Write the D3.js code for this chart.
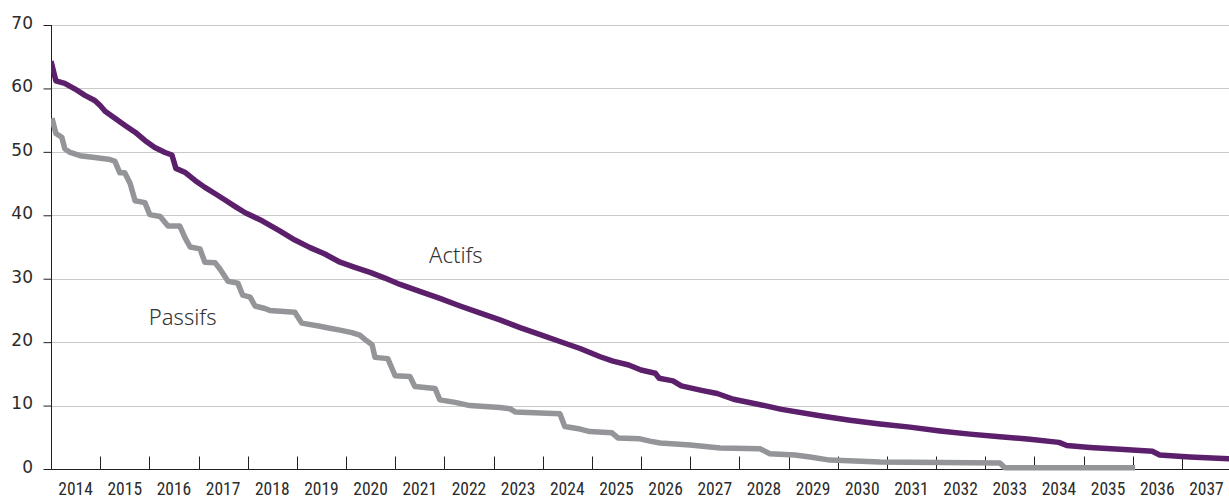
<!DOCTYPE html>
<html>
<head>
<meta charset="utf-8">
<script src="https://cdn.jsdelivr.net/npm/d3@7"></script>
<style>
  html, body { margin: 0; padding: 0; background: #fff; }
  svg { display: block; }
</style>
</head>
<body>
<svg id="chart" width="1229" height="497"></svg>
<script>
// ---- data ----
const years = d3.range(2014, 2038);
const yTicks = [0, 10, 20, 30, 40, 50, 60, 70];

const actifsT = [2014.00, 2014.10, 2014.28, 2014.49, 2014.69, 2014.89, 2015.00, 2015.10, 2015.30, 2015.50,
  2015.71, 2015.91, 2016.11, 2016.32, 2016.46, 2016.54, 2016.72, 2016.93, 2017.13, 2017.34,
  2017.54, 2017.74, 2017.95, 2018.25, 2018.66, 2018.96, 2019.27, 2019.57, 2019.88, 2020.18,
  2020.49, 2020.79, 2021.10, 2021.50, 2021.91, 2022.32, 2022.72, 2023.13, 2023.54, 2023.95,
  2024.35, 2024.76, 2025.17, 2025.43, 2025.75, 2026.00, 2026.29, 2026.37, 2026.65, 2026.82,
  2027.23, 2027.55, 2027.88, 2028.45, 2028.86, 2029.64, 2030.25, 2030.86, 2031.47, 2032.08,
  2032.69, 2033.30, 2033.91, 2034.50, 2034.66, 2035.13, 2035.74, 2036.40, 2036.55, 2037.16, 2038.00];
const actifsV = [64.3, 61.2, 60.8, 59.9, 58.9, 58.1, 57.3, 56.4, 55.3, 54.2,
  53.1, 51.8, 50.7, 49.9, 49.5, 47.4, 46.8, 45.5, 44.4, 43.4,
  42.4, 41.4, 40.4, 39.3, 37.5, 36.1, 34.9, 33.9, 32.6, 31.8,
  31.0, 30.1, 29.1, 28.0, 26.9, 25.7, 24.6, 23.5, 22.3, 21.2,
  20.1, 19.0, 17.7, 17.0, 16.4, 15.6, 15.1, 14.3, 13.9, 13.1,
  12.4, 11.9, 11.0, 10.1, 9.4, 8.4, 7.7, 7.1, 6.6, 6.0,
  5.5, 5.1, 4.7, 4.2, 3.7, 3.4, 3.1, 2.8, 2.2, 1.9, 1.6];

const passifsT = [2014.02, 2014.10, 2014.22, 2014.28, 2014.39, 2014.59, 2014.89, 2015.20, 2015.30, 2015.40,
  2015.50, 2015.61, 2015.71, 2015.91, 2016.01, 2016.22, 2016.38, 2016.62, 2016.73, 2016.83,
  2017.03, 2017.13, 2017.34, 2017.44, 2017.60, 2017.80, 2017.90, 2018.05, 2018.15, 2018.35,
  2018.45, 2018.96, 2019.10, 2019.47, 2019.67, 2019.88, 2020.12, 2020.28, 2020.39, 2020.53,
  2020.59, 2020.85, 2021.00, 2021.30, 2021.40, 2021.81, 2021.91, 2022.22, 2022.52, 2023.13,
  2023.33, 2023.44, 2024.35, 2024.45, 2024.76, 2024.96, 2025.41, 2025.53, 2025.98, 2026.18,
  2026.39, 2027.00, 2027.61, 2028.42, 2028.62, 2029.13, 2029.44, 2029.84, 2030.86, 2033.30,
  2033.40, 2036.05];
const passifsV = [55.3, 52.9, 52.3, 50.5, 49.9, 49.4, 49.1, 48.8, 48.5, 46.7,
  46.7, 45.0, 42.3, 42.0, 40.1, 39.8, 38.3, 38.3, 36.4, 35.0,
  34.7, 32.6, 32.5, 31.5, 29.6, 29.3, 27.4, 27.1, 25.7, 25.3,
  25.0, 24.7, 23.0, 22.5, 22.2, 21.9, 21.5, 21.1, 20.4, 19.6,
  17.6, 17.4, 14.7, 14.6, 13.0, 12.7, 10.9, 10.5, 10.0, 9.7,
  9.5, 9.0, 8.7, 6.7, 6.3, 5.9, 5.7, 4.9, 4.75, 4.4,
  4.1, 3.8, 3.3, 3.2, 2.4, 2.2, 1.9, 1.4, 1.1, 0.95,
  0.2, 0.2];

const seriesLabels = [
  { name: "Actifs", t: 2021.69, v: 32.5 },
  { name: "Passifs", t: 2015.99, v: 22.7 }
];

// ---- drawing ----
const svg = d3.select("#chart");
const x = d3.scaleLinear().domain([2014, 2038]).range([51, 1231]);
const y = d3.scaleLinear().domain([0, 70]).range([469, 25]);
const textColor = "#2b2b2b";

// grid lines
svg.append("g").selectAll("line").data(yTicks.filter(d => d > 0)).join("line")
  .attr("x1", 51).attr("x2", 1229)
  .attr("y1", d => Math.round(y(d)) + 0.5).attr("y2", d => Math.round(y(d)) + 0.5)
  .attr("stroke", "#c9c9c9").attr("stroke-width", 1);

// y axis
const yAxis = svg.append("g").attr("transform", "translate(51.5,0)")
  .call(d3.axisLeft(y).tickValues(yTicks).tickSize(8).tickPadding(10.5).tickFormat(d3.format("d")));
yAxis.select(".domain").attr("d", `M0,${y(70)}V${y(0)}`).attr("stroke", "#231f20");
yAxis.selectAll(".tick line").attr("stroke", "#231f20");
yAxis.selectAll(".tick text")
  .attr("fill", textColor).style("font-family", "'DejaVu Sans', sans-serif").style("font-size", "17px")
  .attr("dy", "0.2em");

// x axis (ticks at year boundaries, labels centered in year)
const xAxis = svg.append("g").attr("transform", `translate(0,${Math.round(y(0)) + 0.5})`);
xAxis.append("line").attr("x1", 45).attr("x2", 1229).attr("stroke", "#231f20");
xAxis.selectAll("line.tk").data(years.slice(1)).join("line").attr("class", "tk")
  .attr("x1", d => Math.round(x(d)) + 0.5).attr("x2", d => Math.round(x(d)) + 0.5)
  .attr("y1", 0).attr("y2", -13).attr("stroke", "#231f20");
xAxis.selectAll("text").data(years).join("text")
  .attr("x", d => x(d + 0.5)).attr("y", 25)
  .attr("text-anchor", "middle")
  .attr("fill", textColor)
  .style("font-family", "'Liberation Sans Narrow', 'Roboto Condensed', Roboto, sans-serif")
  .style("font-size", "17.5px")
  .text(d => d);

// lines
const line = d3.line().x(d => x(d[0])).y(d => y(d[1]));
svg.append("clipPath").attr("id", "clip").append("rect")
  .attr("x", 51).attr("y", 0).attr("width", 1178).attr("height", 497);

svg.append("path").datum(d3.zip(passifsT, passifsV))
  .attr("clip-path", "url(#clip)")
  .attr("d", line).attr("fill", "none")
  .attr("stroke", "#939598").attr("stroke-width", 5.5).attr("stroke-linejoin", "round");
svg.append("path").datum(d3.zip(actifsT, actifsV))
  .attr("clip-path", "url(#clip)")
  .attr("d", line).attr("fill", "none")
  .attr("stroke", "#5c1f6b").attr("stroke-width", 5.5).attr("stroke-linejoin", "round");

// series labels
svg.selectAll("text.lbl").data(seriesLabels).join("text").attr("class", "lbl")
  .attr("x", d => x(d.t)).attr("y", d => y(d.v))
  .attr("text-anchor", "start")
  .attr("fill", "#333")
  .style("font-family", "'Noto Sans', sans-serif").style("font-size", "22px").style("font-weight", 300)
  .text(d => d.name);
</script>
</body>
</html>
